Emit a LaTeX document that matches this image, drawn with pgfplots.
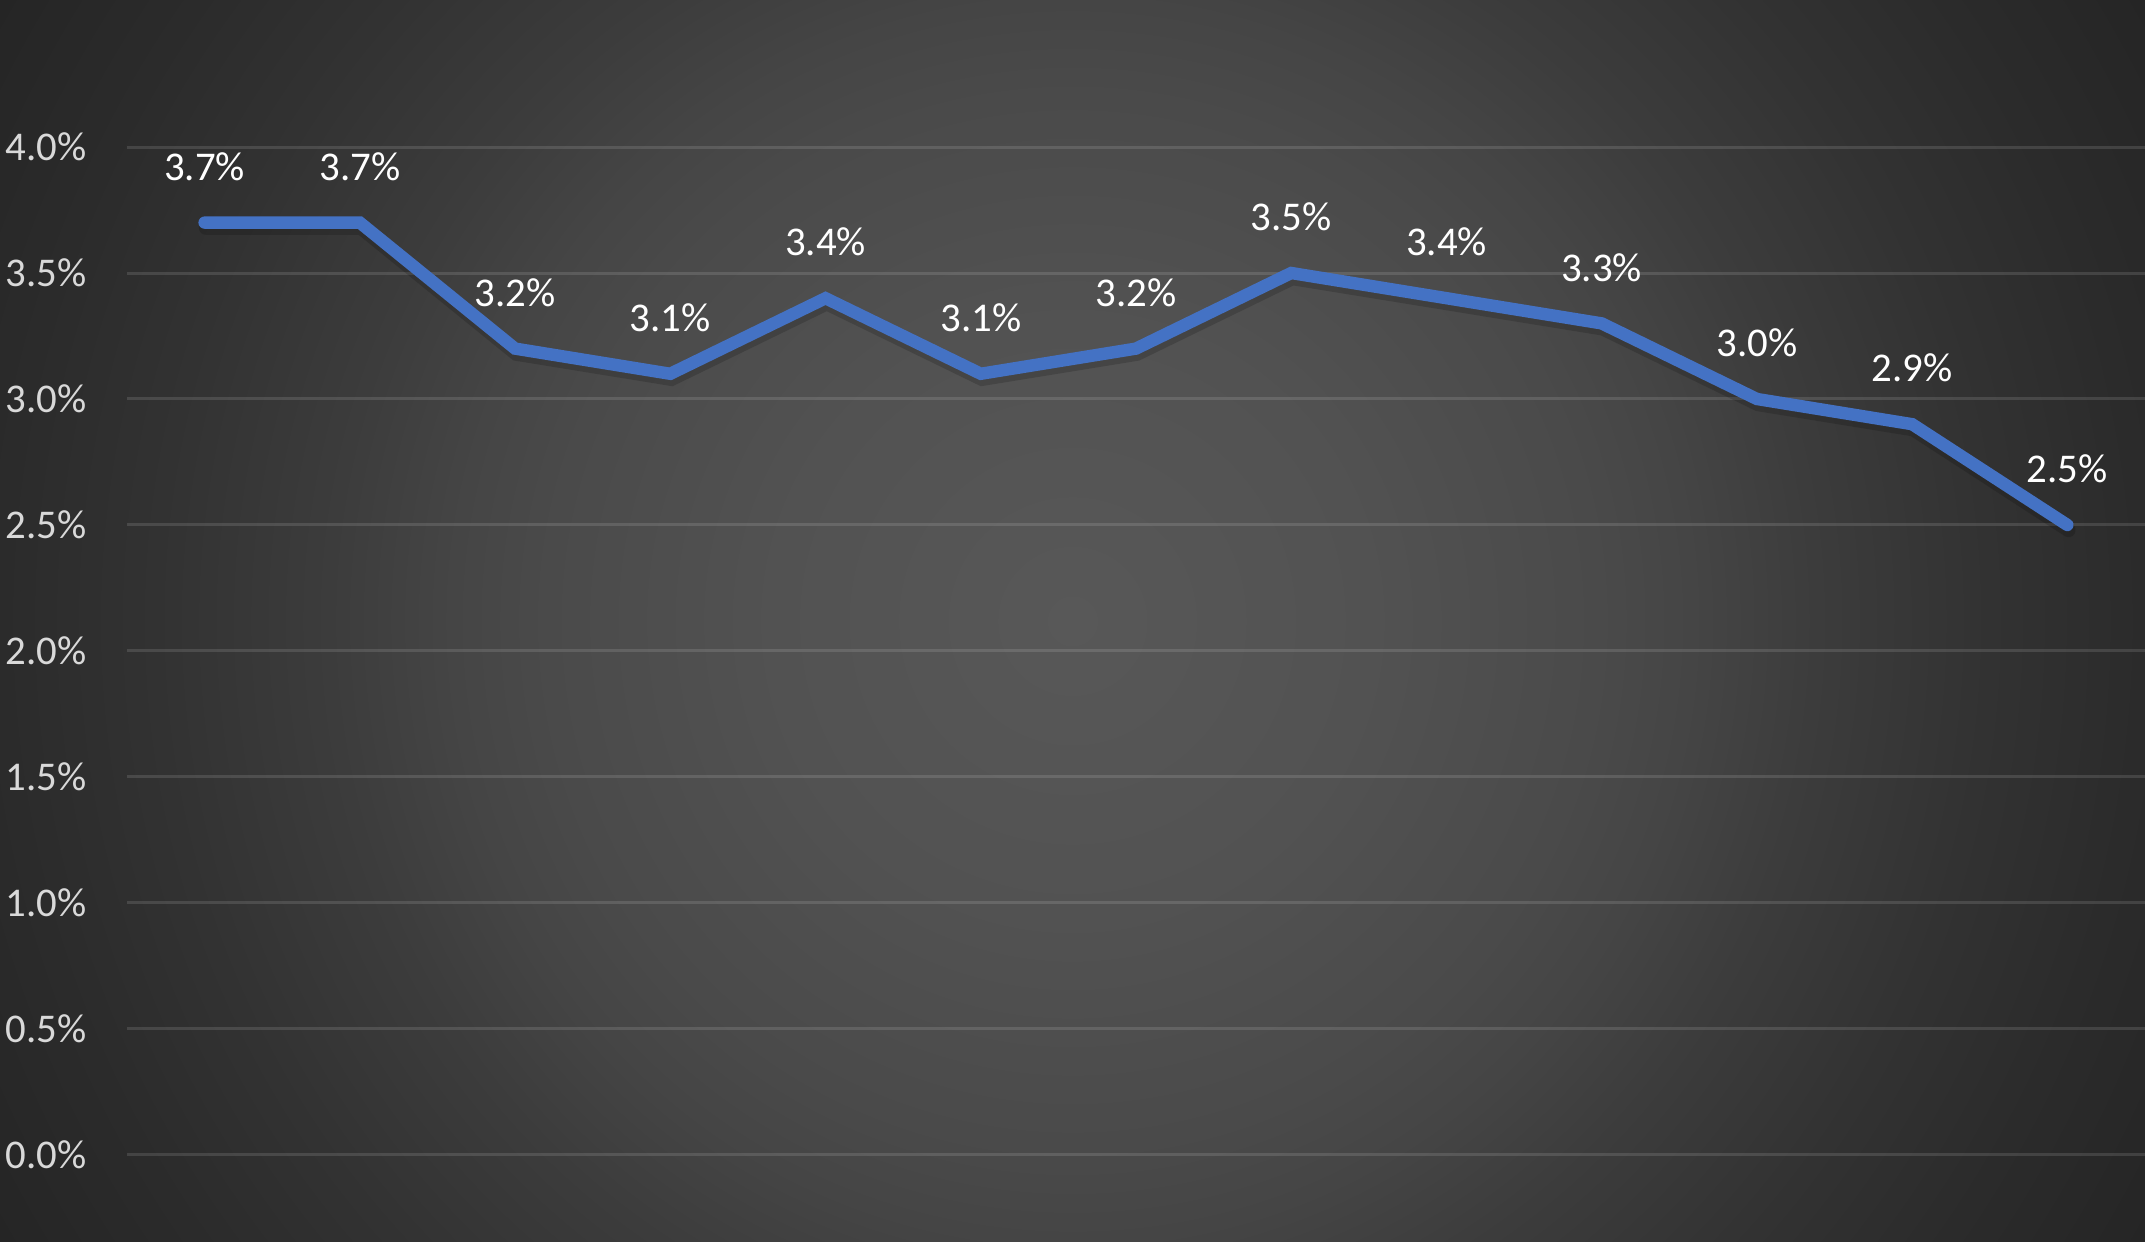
\documentclass[border=0pt]{standalone}
\usepackage{pgfplots}
\pgfplotsset{compat=1.18}
\usepackage{fontspec}
\setmainfont{Carlito}
\definecolor{bg0}{HTML}{585858}
\definecolor{bg1}{HTML}{525252}
\definecolor{bg2}{HTML}{4A4A4A}
\definecolor{bg3}{HTML}{454545}
\definecolor{bg4}{HTML}{3C3C3C}
\definecolor{bg5}{HTML}{323232}
\definecolor{bg6}{HTML}{2B2B2B}
\definecolor{bg7}{HTML}{252525}
\definecolor{lineblue}{HTML}{4472C4}
\definecolor{ticklab}{HTML}{D9D9D9}
\pgfdeclareradialshading{bgshade}{\pgfpoint{0bp}{0bp}}{color(0bp)=(bg0); color(6bp)=(bg1); color(10.6bp)=(bg2); color(12.5bp)=(bg3); color(15bp)=(bg4); color(18.5bp)=(bg5); color(21.6bp)=(bg6); color(25bp)=(bg7); color(50bp)=(bg7)}
\begin{document}
\begin{tikzpicture}
\useasboundingbox (0,0) rectangle (536.25pt,310.5pt);
\begin{scope}
\clip (0,0) rectangle (536.25pt,310.5pt);
\shade[shading=bgshade] (268.1pt-309.75pt,155.25pt-309.75pt) rectangle (268.1pt+309.75pt,155.25pt+309.75pt);
\end{scope}
\begin{axis}[
  at={(31.75pt,21.75pt)}, anchor=south west,
  scale only axis, width=504.5pt, height=252pt,
  xmin=-0.5, xmax=12.5, ymin=0, ymax=4,
  clip=false,
  axis line style={draw=none},
  xtick=\empty,
  ytick={0,0.5,...,4},
  ymajorgrids,
  grid style={draw=white, draw opacity=0.12, line width=0.75pt},
  tick style={draw=none},
  /pgf/number format/assume math mode=true,
  yticklabel={\pgfmathprintnumber[fixed,fixed zerofill,precision=1]{\tick}\%},
  yticklabel style={font=\fontsize{10.2}{12}\selectfont, text=ticklab, anchor=east, inner sep=0pt, xshift=-10pt},
]
\addplot[black, draw opacity=0.16, line width=3.5pt, line cap=round, line join=miter, yshift=-1.3pt, xshift=0.3pt] coordinates {
(0,3.7) (1,3.7) (2,3.2) (3,3.1) (4,3.4) (5,3.1) (6,3.2) (7,3.5) (8,3.4) (9,3.3) (10,3.0) (11,2.9) (12,2.5)};
\addplot[lineblue, line width=3.1pt, line cap=round, line join=miter,
  nodes near coords={\pgfmathprintnumber[fixed,fixed zerofill,precision=1]{\pgfplotspointmeta}\%},
  every node near coord/.append style={font=\fontsize{10.2}{12}\selectfont, text=white, anchor=center, inner sep=0pt, yshift=14pt}
] coordinates {
(0,3.7) (1,3.7) (2,3.2) (3,3.1) (4,3.4) (5,3.1) (6,3.2) (7,3.5) (8,3.4) (9,3.3) (10,3.0) (11,2.9) (12,2.5)};
\end{axis}
\end{tikzpicture}
\end{document}
